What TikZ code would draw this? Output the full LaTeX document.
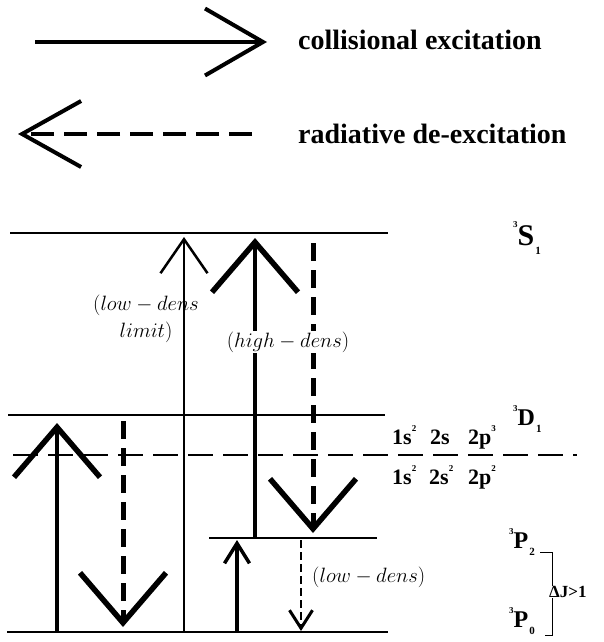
\documentclass[tikz,border=0pt]{standalone}
\usepackage[no-math]{fontspec}
\setmainfont{Liberation Serif}
\usepackage{tikz}
\usetikzlibrary{arrows.meta}

\newcommand{\tsup}[1]{\raisebox{0.6em}{\fontsize{9}{9}\selectfont #1}}
\newcommand{\tsub}[1]{\raisebox{-0.3em}{\fontsize{11}{11}\selectfont #1}}
\newcommand{\term}[3]{\tsup{#1}#2\kern1pt\tsub{#3}}

\begin{document}
\begin{tikzpicture}[
    x=1pt, y=-1pt,
    level/.style={line width=1.4pt},
    sep/.style={line width=1.3pt, dash pattern=on 25pt off 10pt},
    bigtip/.style={-{Straight Barb[length=50pt, width=86pt, line width=5.5pt]}},
    coll/.style={line width=4.5pt, bigtip},
    rad/.style={line width=5pt, dash pattern=on 18pt off 9pt, bigtip},
    thincoll/.style={line width=2pt, -{Straight Barb[length=34pt, width=47pt, line width=2.5pt]}},
    smallcoll/.style={line width=4pt, -{Straight Barb[length=20pt, width=25pt, line width=3.5pt]}},
    smallrad/.style={line width=2.5pt, dash pattern=on 8pt off 4pt, -{Straight Barb[length=18pt, width=23pt, line width=3pt]}},
    legend/.style={anchor=west, inner sep=0pt, font=\fontsize{28}{30}\selectfont\bfseries},
    config/.style={anchor=west, inner sep=0pt, font=\fontsize{22}{24}\selectfont\bfseries},
    term/.style={anchor=west, inner sep=0pt, font=\fontsize{24}{26}\selectfont\bfseries},
    remark/.style={inner sep=1pt, font=\fontsize{20}{27}\selectfont}
]
\useasboundingbox (0,0) rectangle (603,642);

% legend
\coordinate (lc1) at (35,42);
\coordinate (lc2) at (267,42);
\coordinate (lr1) at (252,134);
\coordinate (lr2) at (18,134);
\draw[line width=4pt, -{Straight Barb[length=58pt, width=67pt, line width=4pt]}] (lc1) -- (lc2);
\draw[line width=4.5pt, dash pattern=on 23pt off 10pt, -{Straight Barb[length=59pt, width=66pt, line width=4pt]}] (lr1) -- (lr2);
\node[legend] (lcoll) at (298,40) {collisional excitation};
\node[legend] (lrad) at (298,134) {radiative de-excitation};

% levels
\coordinate (s1l) at (10,233);  \coordinate (s1r) at (388,233);
\coordinate (d1l) at (8,415);   \coordinate (d1r) at (385,415);
\coordinate (sepl) at (13,455); \coordinate (sepr) at (577,455);
\coordinate (p2l) at (209,538); \coordinate (p2r) at (377,538);
\coordinate (p0l) at (7,632);   \coordinate (p0r) at (388,632);
\draw[level] (s1l) -- (s1r);
\draw[level] (d1l) -- (d1r);
\draw[sep] (sepl) -- (sepr);
\draw[level] (p2l) -- (p2r);
\draw[level] (p0l) -- (p0r);

\node[term, font=\fontsize{30}{32}\selectfont\bfseries] (s1) at (513,238) {\term{3}{S}{1}};
\node[term] (d1) at (513,419) {\term{3}{D}{1}};
\node[config] (up) at (392,437) {\makebox[38pt][l]{1s\tsup{2}}\makebox[38pt][l]{2s}2p\tsup{3}};
\node[config] (low) at (392,477) {\makebox[37pt][l]{1s\tsup{2}}\makebox[39pt][l]{2s\tsup{2}}2p\tsup{2}};
\node[term] (p2) at (509,542) {\term{3}{P}{2}};
\node[term] (p0) at (509,621) {\term{3}{P}{0}};

% transitions
\coordinate (a1s) at (57,632);  \coordinate (a1e) at (57,423);
\coordinate (r1s) at (123,421); \coordinate (r1e) at (123,627);
\coordinate (a2s) at (184,632); \coordinate (a2e) at (184,237);
\coordinate (a3s) at (255,538); \coordinate (a3e) at (255,238);
\coordinate (r2s) at (313,243); \coordinate (r2e) at (313,533);
\coordinate (a4s) at (237,632); \coordinate (a4e) at (237,540);
\coordinate (r3s) at (301,540); \coordinate (r3e) at (301,631);
\draw[coll] (a1s) -- (a1e);
\draw[rad] (r1s) -- (r1e);
\draw[thincoll] (a2s) -- (a2e);
\draw[coll] (a3s) -- (a3e);
\draw[rad] (r2s) -- (r2e);
\draw[smallcoll] (a4s) -- (a4e);
\draw[smallrad] (r3s) -- (r3e);

\node[remark, align=center] (lowlim) at (146,319) {$(low-dens$\\$limit)$};
\node[remark, fill=white] (high) at (288,342) {$(high-dens)$};
\node[remark, anchor=west] (lowd) at (311,577) {$(low-dens)$};

\node[inner sep=0pt, anchor=west, font=\fontsize{17}{17}\selectfont\bfseries] (dj) at (549,592) {ΔJ>1};
\coordinate (bt) at (540,552);
\coordinate (bb) at (545,635);
\draw[line width=1pt] (bt) -- (bt -| 552,0) coordinate (bc) -- (bc |- dj.north);
\draw[line width=1pt] (bb) -- (bb -| bc) -- (bc |- dj.south);
\end{tikzpicture}
\end{document}
